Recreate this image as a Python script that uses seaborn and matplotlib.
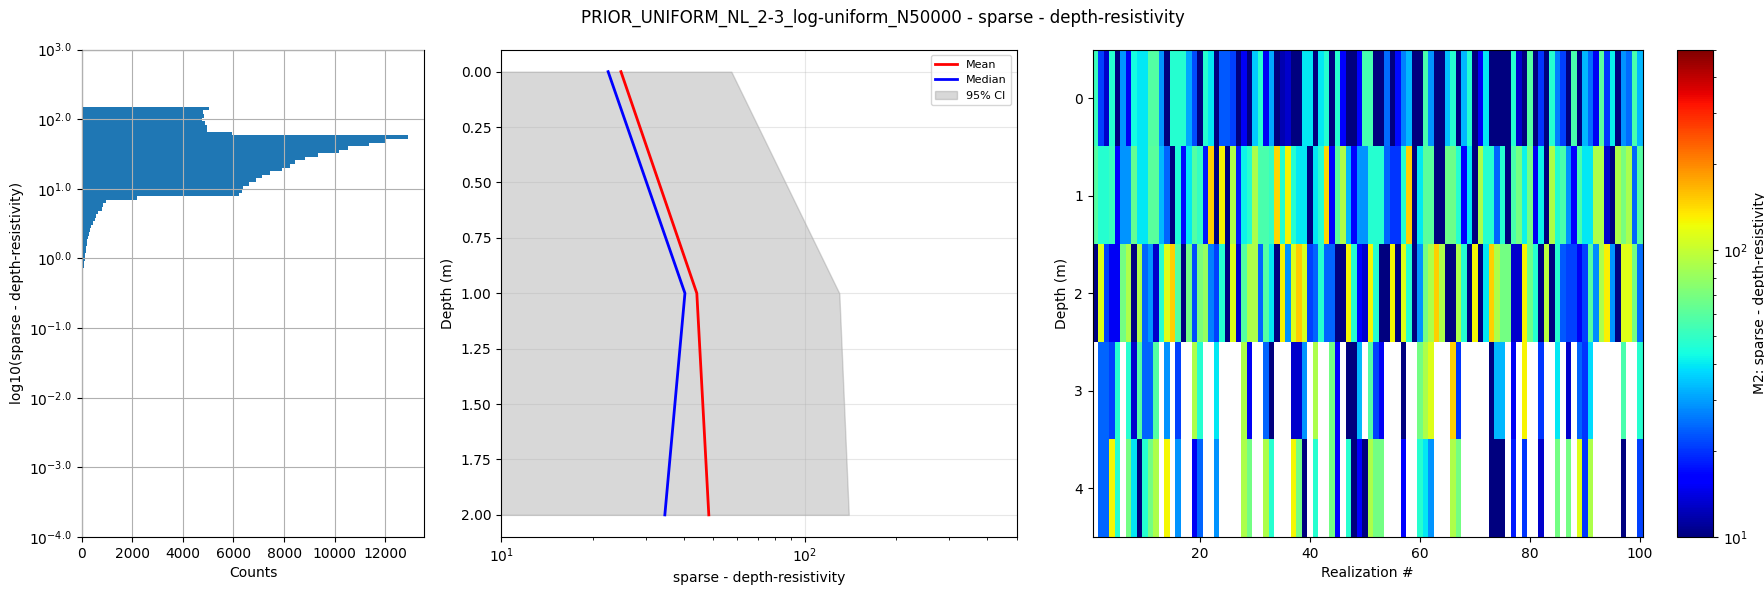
import numpy as np
import pandas as pd
import matplotlib
matplotlib.use("Agg")
import matplotlib.pyplot as plt
import matplotlib.colors as mcolors
import seaborn as sns

nan = np.nan

# histogram of log10 values (bins from bottom to top)
hist_lo, hist_hi = -0.389, 2.176
hist_counts = [12, 22, 30, 41, 54, 80, 94, 120, 133, 160,
               173, 199, 225, 266, 292, 331, 371, 436, 528, 580,
               646, 790, 830, 962, 2185, 6225, 6343, 6369, 6606, 6896,
               7132, 7435, 7909, 8238, 8422, 8817, 9344, 10159, 10515, 11357,
               12015, 12900, 5955, 4960, 4948, 4869, 4777, 4830, 4803, 5040]

# depth profile stats
depth = [0.0, 1.0, 2.0]
mean_res = [24.8, 44.1, 48.3]
median_res = [22.5, 40.3, 34.6]
ci_low = [4.0, 5.0, 5.0]
ci_high = [57.3, 130.0, 139.7]
res_max = 500.0

# realizations (5 layers x 100)
row0 = [52, 21, 13, 47, 9, 29, 15, 44, 40, 40, 58, 58, 29, 9, 47, 47, 47, 31, 22, 9,
        47, 40, 9, 23, 23, 21, 9, 15, 9, 36, 47, 15, 31, 10, 12, 13, 9, 9, 40, 40,
        9, 40, 47, 9, 47, 16, 9, 9, 16, 55, 55, 9, 9, 25, 9, 17, 27, 33, 9, 9,
        56, 29, 9, 9, 34, 47, 9, 33, 47, 9, 15, 40, 9, 9, 9, 9, 47, 13, 9, 58,
        9, 20, 9, 47, 27, 21, 9, 56, 9, 33, 25, 15, 60, 20, 41, 9, 29, 25, 56, 33]
row1 = [58, 47, 47, 52, 16, 29, 29, 63, 40, 40, 60, 60, 33, 24, 9, 46, 17, 40, 58, 50,
        18, 148, 9, 128, 9, 90, 18, 42, 47, 88, 56, 56, 50, 145, 47, 128, 47, 40, 40, 9,
        40, 47, 145, 16, 60, 90, 33, 16, 29, 29, 47, 47, 47, 24, 20, 20, 47, 148, 9, 40,
        60, 60, 9, 9, 66, 66, 47, 16, 40, 9, 88, 47, 47, 24, 47, 9, 56, 68, 42, 68,
        15, 42, 9, 90, 47, 56, 29, 16, 56, 40, 40, 90, 90, 13, 9, 90, 70, 88, 24, 58]
row2 = [9, 112, 21, 15, 15, 68, 90, 9, 90, 24, 29, 13, 47, 112, 148, 58, 9, 68, 22, 70,
        80, 27, 21, 47, 9, 112, 13, 58, 90, 90, 24, 58, 40, 9, 128, 29, 112, 150, 110, 21,
        24, 47, 24, 24, 9, 9, 125, 47, 16, 13, 125, 47, 9, 9, 125, 9, 112, 47, 9, 29,
        68, 90, 148, 90, 9, 9, 90, 47, 9, 125, 9, 40, 148, 90, 68, 68, 13, 13, 128, 66,
        47, 9, 95, 9, 47, 23, 21, 21, 15, 21, 58, 28, 90, 130, 29, 9, 112, 115, 68, 25]
row3 = [nan, 24, 24, 21, 47, nan, 47, 13, 58, 24, 24, 58, nan, 29, nan, 21, nan, nan, 90, 47,
        nan, nan, 40, nan, nan, nan, nan, 90, 15, nan, nan, 24, 9, nan, nan, nan, 13, 13, 29, nan,
        90, nan, nan, 68, 16, nan, 9, 9, 33, nan, 58, 21, 15, nan, nan, nan, 9, nan, nan, 68,
        90, 112, nan, nan, nan, 148, 20, nan, nan, nan, nan, nan, 9, 33, 33, nan, 15, nan, 128, nan,
        nan, 20, nan, nan, 40, nan, 13, nan, 24, 20, 38, nan, nan, nan, nan, nan, 56, nan, nan, 47]
row4 = [nan, 24, 24, 125, 47, nan, 68, 40, 9, 47, 68, 90, nan, 125, nan, 29, nan, nan, 15, 24,
        nan, nan, 29, nan, nan, nan, nan, 90, 68, nan, nan, 90, 47, nan, nan, nan, 125, 68, 9, nan,
        47, nan, nan, 68, 16, nan, 47, 9, 16, 9, 90, 68, 68, nan, nan, nan, 16, nan, nan, 47,
        40, 29, nan, nan, nan, 90, 68, nan, nan, nan, nan, nan, 9, 9, 9, nan, 18, nan, 20, nan,
        nan, 13, nan, nan, 68, nan, 68, nan, 112, 20, 90, nan, nan, nan, nan, nan, 9, nan, nan, 21]

title = "PRIOR_UNIFORM_NL_2-3_log-uniform_N50000 - sparse - depth-resistivity"
label = "sparse - depth-resistivity"

plt.rcParams["font.family"] = ["DejaVu Sans"]
plt.rcParams["font.size"] = 10

fig = plt.figure(figsize=(17.65, 5.93), dpi=100)
ax1 = fig.add_axes([0.0462, 0.0944, 0.1943, 0.8221])
ax2 = fig.add_axes([0.2840, 0.0944, 0.2921, 0.8221])
ax3 = fig.add_axes([0.6191, 0.0944, 0.3116, 0.8221])
cax = fig.add_axes([0.9501, 0.0944, 0.0204, 0.8221])

# --- histogram ---
edges = np.linspace(hist_lo, hist_hi, len(hist_counts) + 1)
centers = 0.5 * (edges[:-1] + edges[1:])
hdf = pd.DataFrame({"logv": centers, "count": hist_counts})
sns.histplot(data=hdf, y="logv", weights="count", bins=len(hist_counts),
             binrange=(hist_lo, hist_hi), ax=ax1,
             color="#1f77b4", alpha=1, linewidth=0, element="bars")
ax1.set_ylim(-4, 3)
ax1.set_xlim(0, max(hist_counts) * 1.05)
ax1.set_yticks(range(-4, 4))
ax1.set_yticklabels([r"$10^{%.1f}$" % t for t in range(-4, 4)])
ax1.grid(True, color="#b0b0b0", linewidth=0.8)
ax1.set_axisbelow(False)
ax1.set_xlabel("Counts")
ax1.set_ylabel("log10(" + label + ")")

# --- depth profile ---
pdf = pd.DataFrame({"depth": depth, "mean": mean_res, "median": median_res})
ax2.fill_betweenx(depth, ci_low, ci_high, color="gray", alpha=0.3, label="95% CI")
sns.lineplot(data=pdf, x="mean", y="depth", ax=ax2, color="red", lw=2,
             label="Mean", sort=False, estimator=None)
sns.lineplot(data=pdf, x="median", y="depth", ax=ax2, color="blue", lw=2,
             label="Median", sort=False, estimator=None)
ax2.set_xscale("log")
ax2.set_xlim(10, res_max)
ax2.set_ylim(2.1, -0.1)
ax2.grid(True, which="major", alpha=0.3)
ax2.set_xlabel(label)
ax2.set_ylabel("Depth (m)")
h, l = ax2.get_legend_handles_labels()
order = [l.index("Mean"), l.index("Median"), l.index("95% CI")]
ax2.legend([h[i] for i in order], [l[i] for i in order], loc="upper right", fontsize=8)

# --- realizations ---
mat = pd.DataFrame([row0, row1, row2, row3, row4], columns=np.arange(1, 101))
norm = mcolors.LogNorm(vmin=10, vmax=res_max)
ax3.imshow(mat.values, aspect="auto", cmap="jet", norm=norm,
           extent=[0.5, 100.5, 4.5, -0.5], interpolation="nearest")
ax3.set_xticks([20, 40, 60, 80, 100])
ax3.set_yticks([0, 1, 2, 3, 4])
ax3.set_xlabel("Realization #")
ax3.set_ylabel("Depth (m)")
sm = plt.cm.ScalarMappable(norm=norm, cmap="jet")
cb = fig.colorbar(sm, cax=cax)
cb.set_label("M2: " + label)

fig.suptitle(title, fontsize=12, y=0.985)
fig.savefig("out.png", dpi=100)
